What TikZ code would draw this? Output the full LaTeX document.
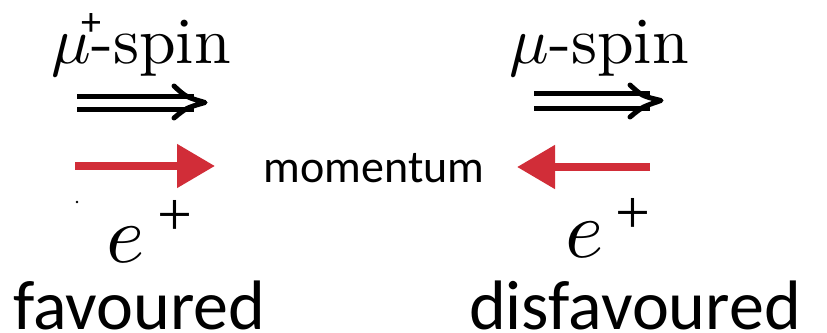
\documentclass[tikz,border=0pt]{standalone}
\usepackage{fontspec}
\newfontfamily\carlito{Carlito}
\newfontfamily\libserif{Liberation Serif}
\usetikzlibrary{arrows.meta}
\definecolor{arrowred}{RGB}{209,45,56}
\begin{document}
\begin{tikzpicture}[x=1pt,y=-1pt,
  spinlabel/.style={font=\fontsize{10}{12}\selectfont, scale=6.6, inner sep=0pt, anchor=base west},
  smallplus/.style={font=\carlito\fontsize{40}{44}\selectfont, inner sep=0pt},
  elabel/.style={font=\fontsize{10}{12}\selectfont, scale=8.2, inner sep=0pt, anchor=base},
  eplus/.style={font=\libserif\fontsize{62}{70}\selectfont, inner sep=0pt},
  bigword/.style={font=\carlito\fontsize{70}{80}\selectfont, inner sep=0pt, anchor=base west},
  momlabel/.style={font=\carlito\fontsize{46}{50}\selectfont, inner sep=0pt, anchor=base},
  dblline/.style={line width=5pt},
  chevron/.style={line width=5pt, line cap=round, line join=round},
  redarrow/.style={draw=arrowred, line width=8pt, -{Triangle[length=38pt,width=42pt]}, arrowred}
]
\useasboundingbox (0,0) rectangle (827,332);

% labels
\node[spinlabel] (spinL) at (50,63) {$\mu$-spin};
\node[smallplus] (plusL) at (91.5,25) {+};
\node[spinlabel] (spinR) at (508,63) {$\mu$-spin};

% double arrows (spin)
\coordinate (dLa) at (77,96.5);  \coordinate (dLb) at (194,96.5);
\coordinate (dLc) at (77,109);   \coordinate (dLd) at (194,109);
\coordinate (dLtip) at (205,102.5);
\draw[dblline] (dLa) -- (dLb);
\draw[dblline] (dLc) -- (dLd);
\draw[chevron] (174,86) .. controls (186,97) .. (dLtip) .. controls (186,108) .. (174,118);

\coordinate (dRa) at (534,93);  \coordinate (dRb) at (650,93);
\coordinate (dRc) at (534,108.5);   \coordinate (dRd) at (650,108.5);
\coordinate (dRtip) at (661,100.5);
\draw[dblline] (dRa) -- (dRb);
\draw[dblline] (dRc) -- (dRd);
\draw[chevron] (630,85) .. controls (642,96) .. (dRtip) .. controls (642,107) .. (630,117);

% momentum arrows
\coordinate (rLs) at (75,166);  \coordinate (rLe) at (215,166);
\coordinate (rRs) at (650,167); \coordinate (rRe) at (517,167);
\draw[redarrow] (rLs) -- (rLe);
\draw[redarrow] (rRs) -- (rRe);
\node[momlabel] (mom) at (374,182) {momentum};

% speck
\fill (77,202) circle (1.4);

% positrons
\node[elabel] (eL) at (126,262) {$e$};
\node[eplus] (pL) at (175,218) {+};
\node[elabel] (eR) at (585,257) {$e$};
\node[eplus] (pR) at (633,216) {+};

\node[bigword] (fav) at (13,329) {favoured};
\node[bigword] (dis) at (469,329) {disfavoured};
\end{tikzpicture}
\end{document}
